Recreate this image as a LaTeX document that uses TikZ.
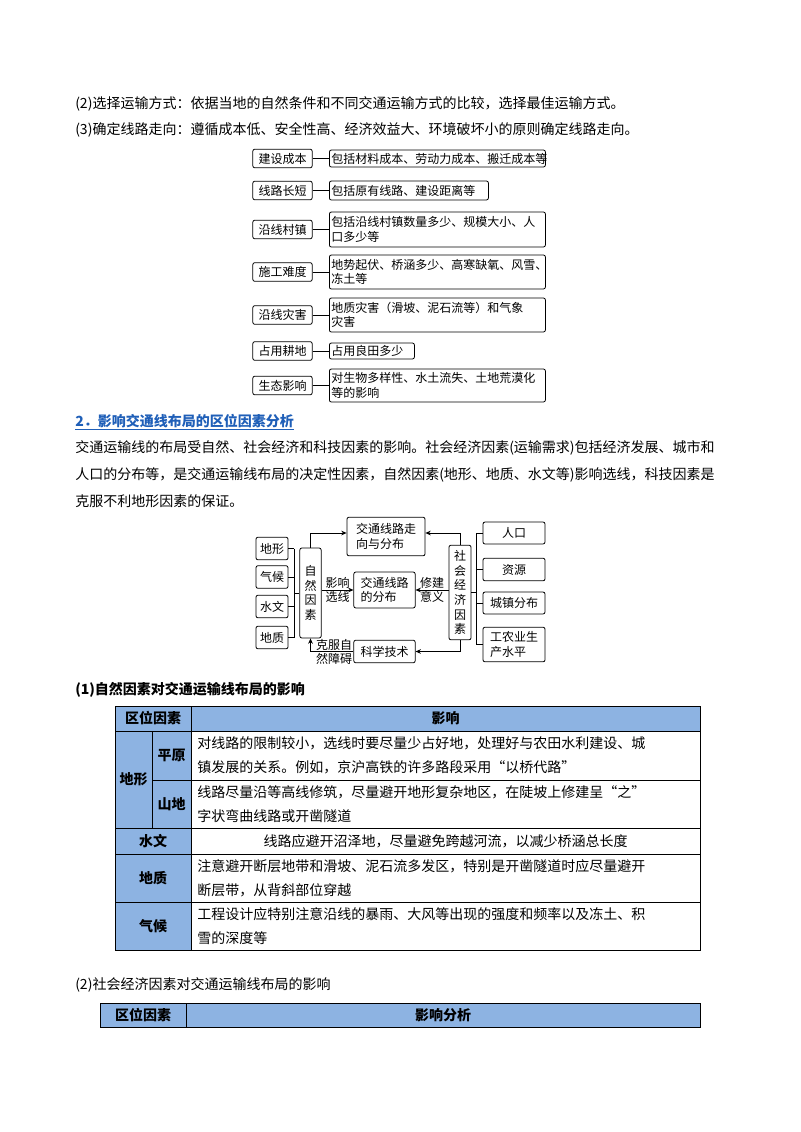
\documentclass[tikz,border=0pt]{standalone}
\usepackage{fontspec}
\setmainfont{Noto Sans CJK SC}
\usetikzlibrary{arrows.meta}
\definecolor{hd}{HTML}{8DB3E2}
\definecolor{ttl}{HTML}{1F5FB8}
\begin{document}
\begin{tikzpicture}[x=0.75pt,y=-0.75pt,
  bx/.style={draw,rounded corners=1.5pt,line width=0.6pt,inner sep=0pt,font=\fontsize{9}{11}\selectfont},
  txt/.style={anchor=west,inner sep=0pt,font=\fontsize{10.5}{13}\selectfont},
  dtxt/.style={inner sep=0pt,font=\fontsize{9}{11}\selectfont,align=left},
  cl/.style={line width=0.6pt},
  ar/.style={line width=0.6pt,-{Stealth[length=4pt,width=3.5pt]}},
  cell/.style={draw,line width=0.5pt},
  hcell/.style={draw,line width=0.5pt,fill=hd}]
\useasboundingbox (0,0) rectangle (800,1132);
\fill[white] (0,0) rectangle (800,1132);
\node[txt] (l1) at (75,104) {(2)选择运输方式：依据当地的自然条件和不同交通运输方式的比较，选择最佳运输方式。};
\node[txt] (l2) at (75,130) {(3)确定线路走向：遵循成本低、安全性高、经济效益大、环境破坏小的原则确定线路走向。};
% diagram 1
\foreach \n/\t/\ya/\yb/\xr/\r in {a/建设成本/150/167/545/包括材料成本、劳动力成本、搬迁成本等,
  b/线路长短/181/200/488/包括原有线路、建设距离等,
  c/沿线村镇/212/247/545/{包括沿线村镇数量多少、规模大小、人\\口多少等},
  d/施工难度/255/289/545/{地势起伏、桥涵多少、高寒缺氧、风雪、\\冻土等},
  e/沿线灾害/298/332/545/{地质灾害（滑坡、泥石流等）和气象\\灾害},
  f/占用耕地/343/359/414/占用良田多少,
  g/生态影响/369/402/545/{对生物多样性、水土流失、土地荒漠化\\等的影响}}{
  \node[bx,minimum width=44.5pt,minimum height=14pt] (L\n) at (282.5,{(\ya+\yb)/2}) {\t};
  \node[bx,anchor=west,minimum width={(\xr-329)*0.75pt},minimum height={(\yb-\ya)*0.75pt},align=left,text width={(\xr-333)*0.75pt}] (R\n) at (329,{(\ya+\yb)/2}) {\r};
  \draw[cl] (L\n) -- (R\n);
}
\node[txt,font=\fontsize{10.5}{13}\selectfont\bfseries,text=ttl] (h2) at (75,422) {\underline{2．影响交通线布局的区位因素分析}};
\node[txt,align=left,font=\fontsize{10.5}{20.5}\selectfont,anchor=north west] (p) at (75,440) {交通运输线的布局受自然、社会经济和科技因素的影响。社会经济因素(运输需求)包括经济发展、城市和\\人口的分布等，是交通运输线布局的决定性因素，自然因素(地形、地质、水文等)影响选线，科技因素是\\克服不利地形因素的保证。};
% diagram 2
\foreach \n/\t/\y in {d1/地形/548.5,d2/气候/577,d3/水文/606.5,d4/地质/637.5}{
  \node[bx,minimum width=24pt,minimum height=17pt] (\n) at (272,\y) {\t};}
\node[bx,minimum width=16pt,minimum height=67.5pt,align=center] (zr) at (310.5,593) {自\\然\\因\\素};
\node[bx,minimum width=58.5pt,minimum height=29pt,align=left] (zx) at (386,536.5) {交通线路走\\向与分布};
\node[bx,minimum width=46pt,minimum height=27pt,align=left] (fb) at (384.5,590) {交通线路\\的分布};
\node[bx,minimum width=46pt,minimum height=17pt] (kj) at (384.5,651.5) {科学技术};
\node[bx,minimum width=16.5pt,minimum height=71pt,align=center] (sh) at (460,592.5) {社\\会\\经\\济\\因\\素};
\node[bx,minimum width=46.5pt,minimum height=16.5pt] (r1) at (514,533) {人口};
\node[bx,minimum width=46.5pt,minimum height=17pt] (r2) at (514,569.5) {资源};
\node[bx,minimum width=46.5pt,minimum height=16.5pt] (r3) at (514,603) {城镇分布};
\node[bx,minimum width=46.5pt,minimum height=26pt,align=left] (r4) at (514,644.5) {工农业生\\产水平};
\coordinate (bl) at (294,548.5);
\coordinate (blb) at (294,637.5);
\foreach \n in {d1,d2,d3,d4} \draw[cl] (\n.east) -- (\n.east -| bl);
\draw[cl] (bl) -- (blb);
\draw[cl] (294,593) -- (zr.west);
\coordinate (br) at (476,533);
\coordinate (brb) at (476,644.5);
\foreach \n in {r1,r2,r3,r4} \draw[cl] (\n.west) -- (\n.west -| br);
\draw[cl] (br) -- (brb);
\draw[cl] (sh.east) -- (476,592.5);
\draw[ar] (zr.north) |- (zx.west |- 0,533);
\draw[ar] (sh.north) |- (zx.east |- 0,533);
\draw[ar] (zr.east |- fb) -- (fb.west);
\draw[ar] (sh.west |- fb) -- (fb.east);
\draw[ar] (sh.south) |- (kj.east);
\draw[ar] (kj.west) -| (zr.south);
\node[dtxt] (t1) at (337.5,590) {影响\\选线};
\node[dtxt] (t2) at (432,590) {修建\\意义};
\node[dtxt] (t3) at (334,652) {克服自\\然障碍};
% table 1
\node[txt,font=\fontsize{10.5}{13}\selectfont\bfseries] (h3) at (75,690) {(1)自然因素对交通运输线布局的影响};
\draw[hcell] (115,706) rectangle (191,731);
\draw[hcell] (191,706) rectangle (700,731);
\draw[hcell] (115,731) rectangle (152,828);
\draw[hcell] (152,731) rectangle (191,780);
\draw[hcell] (152,780) rectangle (191,828);
\draw[hcell] (115,828) rectangle (191,854);
\draw[hcell] (115,854) rectangle (191,902);
\draw[hcell] (115,902) rectangle (191,950);
\foreach \a/\b in {731/780,780/828,828/854,854/902,902/950} \draw[cell] (191,\a) rectangle (700,\b);
\tikzset{bt/.style={inner sep=0pt,font=\fontsize{10.5}{13}\selectfont\bfseries}}
\node[bt] (c0) at (153,718.5) {区位因素};
\node[bt] (c1) at (445.5,718.5) {影响};
\node[bt] (c2) at (133.5,779.5) {地形};
\node[bt] (c3) at (171.5,755.5) {平原};
\node[bt] (c4) at (171.5,804) {山地};
\node[bt] (c5) at (153,841) {水文};
\node[bt] (c6) at (153,878) {地质};
\node[bt] (c7) at (153,926) {气候};
\tikzset{ct/.style={anchor=west,inner sep=0pt,align=left,font=\fontsize{10.5}{18}\selectfont}}
\node[ct] (e1) at (197,755.5) {对线路的限制较小，选线时要尽量少占好地，处理好与农田水利建设、城\\镇发展的关系。例如，京沪高铁的许多路段采用“以桥代路”};
\node[ct] (e2) at (197,804) {线路尽量沿等高线修筑，尽量避开地形复杂地区，在陡坡上修建呈“之”\\字状弯曲线路或开凿隧道};
\node[inner sep=0pt,font=\fontsize{10.5}{13}\selectfont] (e3) at (445.5,841) {线路应避开沼泽地，尽量避免跨越河流，以减少桥涵总长度};
\node[ct] (e4) at (197,878) {注意避开断层地带和滑坡、泥石流多发区，特别是开凿隧道时应尽量避开\\断层带，从背斜部位穿越};
\node[ct] (e5) at (197,926) {工程设计应特别注意沿线的暴雨、大风等出现的强度和频率以及冻土、积\\雪的深度等};
% table 2
\node[txt] (h4) at (75,985) {(2)社会经济因素对交通运输线布局的影响};
\draw[hcell] (100,1003) rectangle (186,1027);
\draw[hcell] (186,1003) rectangle (700,1027);
\node[bt] (g0) at (143,1015) {区位因素};
\node[bt] (g1) at (443,1015) {影响分析};
\end{tikzpicture}
\end{document}
